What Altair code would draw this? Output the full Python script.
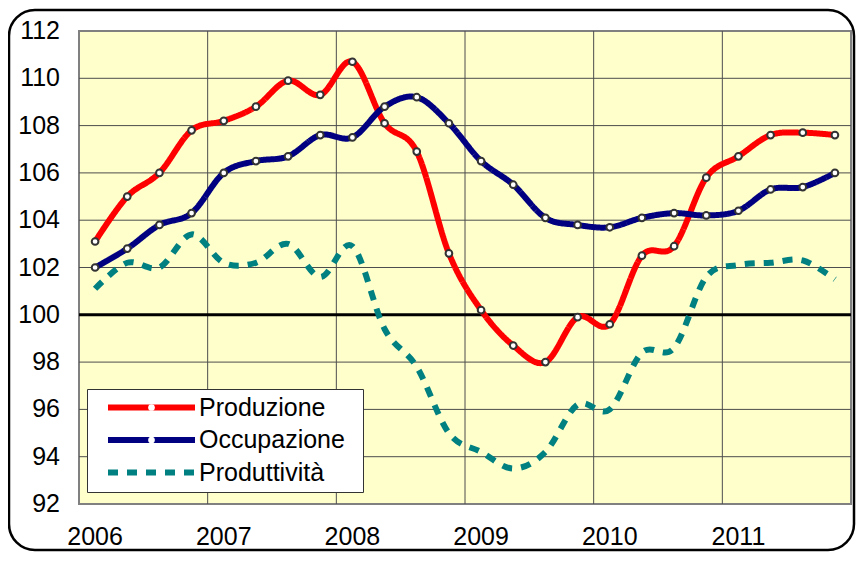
import json
import altair as alt
import pandas as pd

# ---------------- data ----------------
years = ["2006", "2007", "2008", "2009", "2010", "2011"]
quarter_index = list(range(24))
produzione = [103.1, 105.0, 106.0, 107.8, 108.2, 108.8, 109.9, 109.3,
              110.7, 108.1, 106.9, 102.6, 100.2, 98.7, 98.0, 99.9,
              99.6, 102.5, 102.9, 105.8, 106.7, 107.6, 107.7, 107.6]
occupazione = [102.0, 102.8, 103.8, 104.3, 106.0, 106.5, 106.7, 107.6,
               107.5, 108.8, 109.2, 108.1, 106.5, 105.5, 104.1, 103.8,
               103.7, 104.1, 104.3, 104.2, 104.4, 105.3, 105.4, 106.0]
produttivita = [101.1, 102.2, 102.0, 103.4, 102.2, 102.2, 103.0, 101.6,
                102.9, 99.4, 97.8, 95.0, 94.2, 93.5, 94.2, 96.2,
                96.0, 98.4, 98.6, 101.6, 102.1, 102.2, 102.3, 101.5]
series_names = ["Produzione", "Occupazione", "Produttività"]
series_colors = ["#FF0000", "#000080", "#008080"]
y_ticks = list(range(92, 113, 2))
h_grid = list(range(94, 111, 2))
year_ticks = [0, 4, 8, 12, 16, 20]
year_bounds = [3.5, 7.5, 11.5, 15.5, 19.5]
reference_level = [100]

W, H = 772, 473
FONT = "Liberation Sans"

rows = []
for name, vals in zip(series_names, [produzione, occupazione, produttivita]):
    for q, v in zip(quarter_index, vals):
        rows.append({"q": q, "v": v, "serie": name})
df = pd.DataFrame(rows)

xscale = alt.Scale(domain=[-0.5, 23.5], nice=False, zero=False)
yscale = alt.Scale(domain=[92, 112], nice=False, zero=False)
one = pd.DataFrame({"k": [0]})

# ---------------- decoration ----------------
frame = alt.Chart(one).mark_rect(fill=None, filled=False, stroke="black", strokeWidth=2.5,
                                 cornerRadius=26).encode(
    x=alt.value(-70), x2=alt.value(775), y=alt.value(-21), y2=alt.value(519))
plotbg = alt.Chart(one).mark_rect(fill="#FFFFCC", stroke="#808080", strokeWidth=2).encode(
    x=alt.value(0), x2=alt.value(W), y=alt.value(0), y2=alt.value(H))

hgrid = alt.Chart(pd.DataFrame({"g": h_grid})).mark_rule(color="#4D4D4D", strokeWidth=1).encode(
    y=alt.Y("g:Q", scale=yscale, axis=None))
vgrid = alt.Chart(pd.DataFrame({"b": year_bounds})).mark_rule(color="#4D4D4D", strokeWidth=1).encode(
    x=alt.X("b:Q", scale=xscale, axis=None))
zero_line = alt.Chart(pd.DataFrame({"r": reference_level})).mark_rule(color="black", strokeWidth=3).encode(
    y=alt.Y("r:Q", scale=yscale, axis=None))

# tick labels as text marks placed through the scales
ylabels = alt.Chart(pd.DataFrame({"t": y_ticks, "lab": [str(t) for t in y_ticks]})).mark_text(
    align="right", baseline="middle", font=FONT, fontSize=25, color="black", dx=-19
).encode(y=alt.Y("t:Q", scale=yscale, axis=None), x=alt.value(0), text="lab:N")

xlabels = alt.Chart(pd.DataFrame({"p": year_ticks, "lab": years})).mark_text(
    align="center", baseline="middle", font=FONT, fontSize=25, color="black", dy=33
).encode(x=alt.X("p:Q", scale=xscale, axis=None), y=alt.value(H), text="lab:N")

legend_common = dict(
    orient="none", legendX=8, legendY=358,
    labelFontSize=25, labelFont=FONT, padding=6, rowPadding=6.5, clipHeight=25,
)
main_legend = alt.Legend(
    title="I", titleOrient="right", titleOpacity=0, titleFontSize=25, titlePadding=5,
    symbolType="stroke", symbolSize=7569, symbolStrokeWidth=6,
    labelColor="black", labelOffset=1, symbolOffset=12,
    fillColor="white", strokeColor="#333333",
    labelLimit=500, zindex=1,
    **legend_common)

lines = alt.Chart(df).mark_line(interpolate="cardinal", strokeJoin="round").encode(
    x=alt.X("q:Q", scale=xscale, axis=None),
    y=alt.Y("v:Q", scale=yscale,
            axis=alt.Axis(values=y_ticks, grid=False, title=None, tickSize=8, labels=False,
                          tickColor="#404040", domainColor="#404040", domainWidth=1.5,
                          zindex=1)),
    color=alt.Color("serie:N", scale=alt.Scale(domain=series_names, range=series_colors),
                    legend=main_legend),
    strokeDash=alt.StrokeDash("serie:N",
                              scale=alt.Scale(domain=series_names, range=[[1, 0], [1, 0], [10, 9]]),
                              legend=main_legend),
    strokeWidth=alt.StrokeWidth("serie:N", scale=alt.Scale(domain=series_names, range=[6, 6, 4]),
                                legend=None),
)

point_legend = alt.Legend(
    title=None,
    symbolType="circle", symbolSize=45, symbolFillColor="white",
    symbolStrokeColor="#333333", symbolStrokeWidth=2, labelExpr="''",
    symbolOffset=46, zindex=2, **legend_common)

points = alt.Chart(df).transform_filter(
    alt.FieldOneOfPredicate(field="serie", oneOf=series_names[:2])
).mark_point(filled=True, fill="white", stroke="#333333", strokeWidth=2,
             size=45, opacity=1).encode(
    x=alt.X("q:Q", scale=xscale, axis=None),
    y=alt.Y("v:Q", scale=yscale, axis=None),
    shape=alt.Shape("serie:N", scale=alt.Scale(domain=series_names[:2], range=["circle", "circle"]),
                    legend=point_legend),
)

chart = alt.layer(frame, plotbg, hgrid, vgrid, zero_line, lines, points, ylabels, xlabels).properties(
    width=W, height=H,
    autosize=alt.AutoSizeParams(type="none"),
    padding={"left": 71, "top": 23, "right": 7, "bottom": 50},
    background="white",
).configure_view(stroke=None)

chart.save("out.html", embed_options={"renderer": "svg", "actions": False})
